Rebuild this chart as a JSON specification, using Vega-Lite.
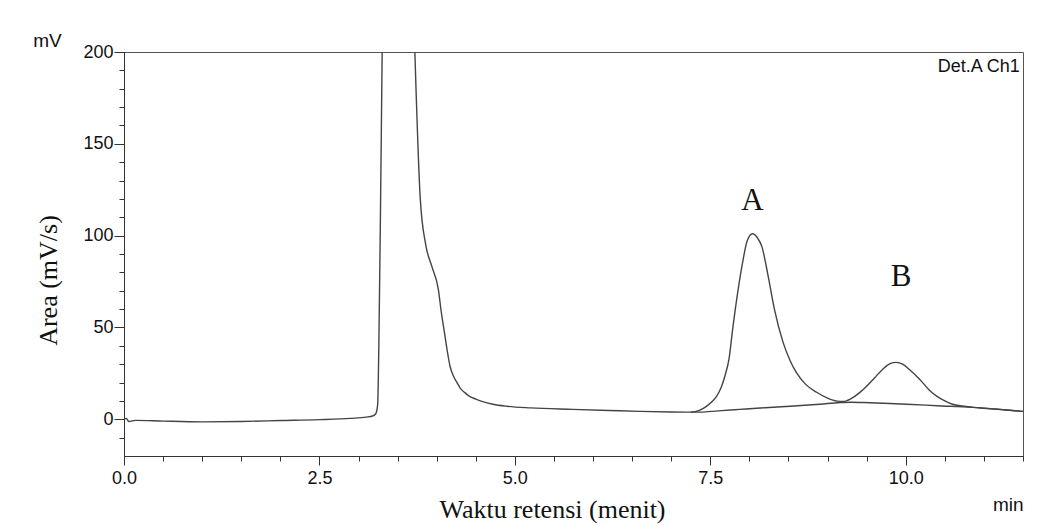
{
  "$schema": "https://vega.github.io/schema/vega-lite/v6.json",
  "width": 899,
  "height": 404,
  "autosize": {"type": "none"},
  "padding": {"left": 124, "top": 52, "right": 36, "bottom": 69},
  "background": "white",
  "config": {
    "view": {"stroke": "#555", "strokeWidth": 1},
    "axis": {"grid": false, "domainColor": "#333", "tickColor": "#333", "labelColor": "#111", "titleColor": "#111", "labelFont": "Liberation Sans", "titleFont": "Liberation Sans", "titleFontWeight": "normal"}
  },
  "datasets": {
    "curves": [
      {"series": "sampel", "t": 0, "v": 0},
      {"series": "sampel", "t": 0.03, "v": 0.5},
      {"series": "sampel", "t": 0.06, "v": -1.2},
      {"series": "sampel", "t": 0.15, "v": -0.6},
      {"series": "sampel", "t": 0.5, "v": -1.0},
      {"series": "sampel", "t": 1.0, "v": -1.4},
      {"series": "sampel", "t": 1.5, "v": -1.2},
      {"series": "sampel", "t": 2.0, "v": -0.7},
      {"series": "sampel", "t": 2.5, "v": -0.2},
      {"series": "sampel", "t": 2.9, "v": 0.5},
      {"series": "sampel", "t": 3.1, "v": 1.2},
      {"series": "sampel", "t": 3.18, "v": 1.8},
      {"series": "sampel", "t": 3.22, "v": 3.0},
      {"series": "sampel", "t": 3.245, "v": 8},
      {"series": "sampel", "t": 3.26, "v": 40},
      {"series": "sampel", "t": 3.28, "v": 110},
      {"series": "sampel", "t": 3.3, "v": 190},
      {"series": "sampel", "t": 3.31, "v": 230},
      {"series": "sampel", "t": 3.5, "v": 600},
      {"series": "sampel", "t": 3.7, "v": 230},
      {"series": "sampel", "t": 3.72, "v": 201},
      {"series": "sampel", "t": 3.79, "v": 120},
      {"series": "sampel", "t": 3.86, "v": 95},
      {"series": "sampel", "t": 3.94, "v": 83},
      {"series": "sampel", "t": 4.02, "v": 71},
      {"series": "sampel", "t": 4.06, "v": 58},
      {"series": "sampel", "t": 4.1, "v": 47},
      {"series": "sampel", "t": 4.14, "v": 36},
      {"series": "sampel", "t": 4.17, "v": 29},
      {"series": "sampel", "t": 4.22, "v": 23},
      {"series": "sampel", "t": 4.26, "v": 20},
      {"series": "sampel", "t": 4.3, "v": 17},
      {"series": "sampel", "t": 4.36, "v": 14.5},
      {"series": "sampel", "t": 4.42, "v": 12.5},
      {"series": "sampel", "t": 4.5, "v": 11},
      {"series": "sampel", "t": 4.6, "v": 9.5},
      {"series": "sampel", "t": 4.72, "v": 8.2},
      {"series": "sampel", "t": 4.9, "v": 7.1},
      {"series": "sampel", "t": 5.2, "v": 6.2},
      {"series": "sampel", "t": 5.74, "v": 5.4},
      {"series": "sampel", "t": 6.2, "v": 4.8},
      {"series": "sampel", "t": 6.6, "v": 4.3},
      {"series": "sampel", "t": 7.0, "v": 4.0},
      {"series": "sampel", "t": 7.25, "v": 3.9},
      {"series": "sampel", "t": 7.36, "v": 4.8},
      {"series": "sampel", "t": 7.45, "v": 7},
      {"series": "sampel", "t": 7.52, "v": 9.5},
      {"series": "sampel", "t": 7.58, "v": 12.5},
      {"series": "sampel", "t": 7.64, "v": 17.5},
      {"series": "sampel", "t": 7.69, "v": 24},
      {"series": "sampel", "t": 7.74, "v": 33},
      {"series": "sampel", "t": 7.79, "v": 50.5},
      {"series": "sampel", "t": 7.85, "v": 69},
      {"series": "sampel", "t": 7.92, "v": 87},
      {"series": "sampel", "t": 7.97, "v": 97},
      {"series": "sampel", "t": 8.04, "v": 101},
      {"series": "sampel", "t": 8.1, "v": 99},
      {"series": "sampel", "t": 8.16, "v": 94},
      {"series": "sampel", "t": 8.24, "v": 78},
      {"series": "sampel", "t": 8.32, "v": 60},
      {"series": "sampel", "t": 8.43, "v": 42},
      {"series": "sampel", "t": 8.52, "v": 32},
      {"series": "sampel", "t": 8.6, "v": 25.5},
      {"series": "sampel", "t": 8.72, "v": 19},
      {"series": "sampel", "t": 8.86, "v": 14.7},
      {"series": "sampel", "t": 9.0, "v": 11.5},
      {"series": "sampel", "t": 9.12, "v": 9.9},
      {"series": "sampel", "t": 9.2, "v": 9.7},
      {"series": "sampel", "t": 9.3, "v": 11.2},
      {"series": "sampel", "t": 9.41, "v": 14.5},
      {"series": "sampel", "t": 9.5, "v": 18},
      {"series": "sampel", "t": 9.6, "v": 22.5},
      {"series": "sampel", "t": 9.7, "v": 27},
      {"series": "sampel", "t": 9.8, "v": 30.3},
      {"series": "sampel", "t": 9.88, "v": 31},
      {"series": "sampel", "t": 9.96, "v": 30},
      {"series": "sampel", "t": 10.05, "v": 27},
      {"series": "sampel", "t": 10.18, "v": 21.7},
      {"series": "sampel", "t": 10.3, "v": 16},
      {"series": "sampel", "t": 10.4, "v": 12.5},
      {"series": "sampel", "t": 10.5, "v": 10},
      {"series": "sampel", "t": 10.6, "v": 8.2},
      {"series": "sampel", "t": 10.72, "v": 7.2},
      {"series": "sampel", "t": 10.86, "v": 6.5},
      {"series": "sampel", "t": 11.0, "v": 6.0},
      {"series": "sampel", "t": 11.25, "v": 5.2},
      {"series": "sampel", "t": 11.5, "v": 4.3},
      {"series": "baseline", "t": 7.25, "v": 3.9},
      {"series": "baseline", "t": 7.37, "v": 3.9},
      {"series": "baseline", "t": 7.6, "v": 4.6},
      {"series": "baseline", "t": 7.88, "v": 5.4},
      {"series": "baseline", "t": 8.2, "v": 6.3},
      {"series": "baseline", "t": 8.52, "v": 7.1},
      {"series": "baseline", "t": 8.9, "v": 8.2},
      {"series": "baseline", "t": 9.16, "v": 9.1},
      {"series": "baseline", "t": 9.3, "v": 9.3},
      {"series": "baseline", "t": 9.54, "v": 9.0},
      {"series": "baseline", "t": 9.8, "v": 8.6},
      {"series": "baseline", "t": 10.01, "v": 8.2},
      {"series": "baseline", "t": 10.4, "v": 7.4},
      {"series": "baseline", "t": 10.86, "v": 6.5},
      {"series": "baseline", "t": 11.2, "v": 5.4},
      {"series": "baseline", "t": 11.5, "v": 4.3}
    ],
    "labels": [
      {"label": "A", "t": 8.04, "v": 119},
      {"label": "B", "t": 9.94, "v": 77.5}
    ],
    "det": [
      {"label": "Det.A Ch1", "t": 11.46, "v": 191.8}
    ]
  },
  "layer": [
    {
      "data": {"name": "curves"},
      "mark": {"type": "line", "clip": true, "color": "#444", "strokeWidth": 1.4, "interpolate": "monotone"},
      "encoding": {
        "x": {"field": "t", "type": "quantitative", "scale": {"domain": [0, 11.5], "nice": false, "zero": false},
          "axis": {"values": [0, 2.5, 5, 7.5, 10], "format": ".1f", "tickSize": 9, "labelFontSize": 18, "labelPadding": 4, "labelFlush": false,
            "title": "Waktu retensi (menit)", "titleFont": "Liberation Serif", "titleFontSize": 26, "titleX": 428, "titleY": 61, "titleAlign": "center", "titleBaseline": "alphabetic", "titleAnchor": null}},
        "y": {"field": "v", "type": "quantitative", "scale": {"domain": [-20, 200], "nice": false, "zero": false},
          "axis": {"values": [0, 50, 100, 150, 200], "tickSize": 10, "labelFontSize": 18, "labelPadding": 1,
            "title": "Area (mV/s)", "titleFont": "Liberation Serif", "titleFontSize": 26, "titleAngle": 270, "titleX": -76, "titleY": 228, "titleAlign": "center", "titleBaseline": "middle"}},
        "detail": {"field": "series", "type": "nominal"}
      }
    },
    {
      "data": {"name": "curves"},
      "mark": {"type": "line", "opacity": 0},
      "encoding": {
        "x": {"field": "t", "type": "quantitative",
          "axis": {"orient": "bottom", "values": [0, 0.5, 1, 1.5, 2, 2.5, 3, 3.5, 4, 4.5, 5, 5.5, 6, 6.5, 7, 7.5, 8, 8.5, 9, 9.5, 10, 10.5, 11, 11.5], "labels": false, "tickSize": 5,
            "title": "min", "titleFontSize": 19, "titleX": 899, "titleY": 54, "titleAlign": "right", "titleBaseline": "alphabetic"}},
        "y": {"field": "v", "type": "quantitative",
          "axis": {"orient": "left", "values": [-10, 0, 10, 20, 30, 40, 50, 60, 70, 80, 90, 100, 110, 120, 130, 140, 150, 160, 170, 180, 190, 200], "labels": false, "tickSize": 5,
            "title": "mV", "titleFontSize": 19, "titleAngle": 0, "titleX": -77, "titleY": -12, "titleAlign": "center", "titleBaseline": "middle"}},
        "detail": {"field": "series", "type": "nominal"}
      }
    },
    {
      "data": {"name": "labels"},
      "mark": {"type": "text", "font": "Liberation Serif", "fontSize": 31, "color": "#111", "align": "center", "baseline": "middle"},
      "encoding": {
        "x": {"field": "t", "type": "quantitative", "axis": null},
        "y": {"field": "v", "type": "quantitative", "axis": null},
        "text": {"field": "label"}
      }
    },
    {
      "data": {"name": "det"},
      "mark": {"type": "text", "font": "Liberation Sans", "fontSize": 18, "color": "#111", "align": "right", "baseline": "middle"},
      "encoding": {
        "x": {"field": "t", "type": "quantitative", "axis": null},
        "y": {"field": "v", "type": "quantitative", "axis": null},
        "text": {"field": "label"}
      }
    }
  ],
  "resolve": {"axis": {"x": "independent", "y": "independent"}}
}
